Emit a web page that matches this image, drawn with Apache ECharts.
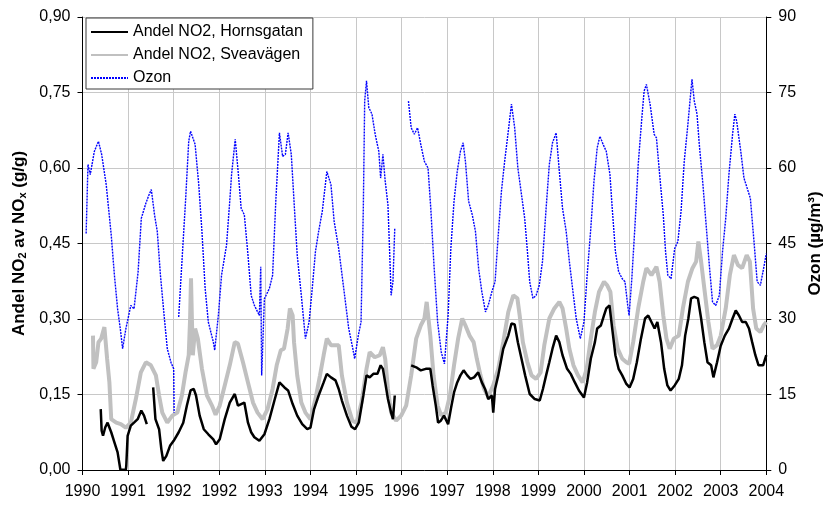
<!DOCTYPE html>
<html>
<head>
<meta charset="utf-8">
<script src="https://cdn.jsdelivr.net/npm/echarts@6/dist/echarts.min.js"></script>
<style>
  html, body { margin: 0; padding: 0; background: #ffffff; }
  #chart { width: 832px; height: 505px; }
</style>
</head>
<body>
<div id="chart"></div>
<script>
// Tick labels along the time axis (one per axis step)
const xLabels = ['1990', '1991', '1992', '1992', '1993', '1994', '1995', '1996',
                 '1997', '1998', '1999', '2000', '2001', '2002', '2003', '2004'];

// Share of NO2 in NOx, Hornsgatan (time in axis steps, value in g/g; null = gap)
const hornsT = [0.40, 0.42, 0.45, 0.50, 0.55, 0.63, 0.70, 0.77, 0.83, 0.84, 0.95, 0.96, 0.99,
  1.06, 1.13, 1.21, 1.29, 1.35, 1.41, 1.48,
  1.55, 1.60, 1.68, 1.73, 1.77, 1.84, 1.92, 2.00, 2.11, 2.21, 2.29, 2.37, 2.44, 2.49, 2.57, 2.66, 2.76, 2.87, 2.93,
  3.01, 3.12, 3.23, 3.34, 3.41, 3.48, 3.55, 3.63, 3.70, 3.77, 3.88, 3.99,
  4.10, 4.21, 4.32, 4.43, 4.51, 4.61, 4.71, 4.82, 4.93, 5.00,
  5.08, 5.18, 5.29, 5.36, 5.45, 5.55, 5.62, 5.69, 5.80, 5.90, 5.98,
  6.06, 6.16, 6.23, 6.30, 6.38, 6.47, 6.54, 6.59, 6.64, 6.70, 6.77, 6.81, 6.85, 7.00,
  7.21, 7.32, 7.42, 7.53, 7.63, 7.68, 7.75, 7.80, 7.86, 7.93, 8.02,
  8.08, 8.15, 8.22, 8.29, 8.36, 8.44, 8.51, 8.59, 8.68, 8.76, 8.83, 8.90, 8.98,
  9.01, 9.05, 9.12, 9.23, 9.34, 9.41, 9.48, 9.55, 9.63, 9.71, 9.81, 9.92,
  10.03, 10.10, 10.17, 10.24, 10.31, 10.39, 10.46, 10.53, 10.63, 10.71, 10.80, 10.89, 11.00,
  11.07, 11.15, 11.24, 11.29, 11.37, 11.44, 11.49, 11.56, 11.62, 11.69, 11.76, 11.84, 11.93,
  12.00, 12.08, 12.16, 12.25, 12.34, 12.41, 12.48, 12.55, 12.61, 12.69, 12.76, 12.83, 12.90, 12.99,
  13.08, 13.15, 13.22, 13.29, 13.35, 13.42, 13.50, 13.57, 13.64, 13.71, 13.79, 13.84, 13.92,
  14.00, 14.09, 14.18, 14.26, 14.33, 14.40, 14.47, 14.55, 14.62, 14.69, 14.76, 14.83, 14.93, 15.00];
const hornsV = [0.121, 0.078, 0.068, 0.085, 0.094, 0.075, 0.055, 0.035, 0.001, 0.0, 0.0, 0.008, 0.068,
  0.088, 0.094, 0.101, 0.118, 0.108, 0.091, null,
  0.164, 0.101, 0.081, 0.041, 0.018, 0.028, 0.048, 0.058, 0.075, 0.094, 0.128, 0.158, 0.161, 0.148, 0.108, 0.081, 0.071, 0.061, 0.051,
  0.061, 0.101, 0.134, 0.151, 0.128, 0.131, 0.134, 0.094, 0.075, 0.065, 0.058, 0.071,
  0.101, 0.138, 0.174, 0.164, 0.158, 0.131, 0.108, 0.091, 0.081, 0.084,
  0.121, 0.148, 0.174, 0.191, 0.184, 0.178, 0.161, 0.138, 0.108, 0.086, 0.081,
  0.094, 0.148, 0.188, 0.184, 0.191, 0.191, 0.208, 0.201, 0.174, 0.141, 0.114, 0.101, 0.148, null,
  0.208, 0.204, 0.198, 0.201, 0.201, 0.168, 0.128, 0.094, 0.098, 0.108, 0.091,
  0.121, 0.154, 0.174, 0.188, 0.198, 0.188, 0.181, 0.184, 0.194, 0.174, 0.161, 0.141, 0.148,
  0.114, 0.161, 0.188, 0.241, 0.267, 0.291, 0.289, 0.254, 0.221, 0.188, 0.151, 0.141,
  0.138, 0.161, 0.188, 0.214, 0.241, 0.267, 0.254, 0.228, 0.201, 0.191, 0.174, 0.158, 0.144,
  0.174, 0.221, 0.254, 0.281, 0.287, 0.307, 0.321, 0.327, 0.281, 0.228, 0.201, 0.188, 0.171,
  0.164, 0.181, 0.214, 0.261, 0.301, 0.307, 0.294, 0.281, 0.294, 0.254, 0.201, 0.168, 0.158, 0.168,
  0.181, 0.208, 0.267, 0.301, 0.341, 0.344, 0.341, 0.301, 0.254, 0.214, 0.208, 0.184, 0.214,
  0.247, 0.267, 0.281, 0.301, 0.317, 0.307, 0.294, 0.294, 0.281, 0.254, 0.228, 0.208, 0.208, 0.228];

// Share of NO2 in NOx, Sveavägen
const sveaT = [0.23, 0.24, 0.30, 0.35, 0.41, 0.48, 0.54, 0.59, 0.63, 0.74, 0.84, 0.95,
  1.06, 1.17, 1.28, 1.39, 1.50, 1.61, 1.68, 1.75, 1.86, 1.97,
  2.08, 2.18, 2.26, 2.33, 2.36, 2.38, 2.40, 2.42, 2.47, 2.53, 2.62, 2.73, 2.84, 2.92,
  3.01, 3.12, 3.23, 3.34, 3.41, 3.52, 3.63, 3.74, 3.84, 3.95,
  4.06, 4.17, 4.26, 4.35, 4.42, 4.50, 4.55, 4.61, 4.64, 4.71, 4.80, 4.89, 5.00,
  5.11, 5.21, 5.29, 5.36, 5.45, 5.55, 5.62, 5.69, 5.80, 5.92,
  6.01, 6.12, 6.23, 6.30, 6.41, 6.52, 6.59, 6.64, 6.70, 6.77, 6.88, 6.99,
  7.10, 7.21, 7.32, 7.42, 7.50, 7.55, 7.59, 7.63, 7.70, 7.79, 7.87, 7.97,
  8.06, 8.15, 8.24, 8.33, 8.40, 8.49, 8.58, 8.65, 8.73, 8.81, 8.90,
  9.01, 9.12, 9.23, 9.34, 9.45, 9.54, 9.59, 9.66, 9.76, 9.85, 9.95,
  10.05, 10.13, 10.24, 10.35, 10.46, 10.53, 10.61, 10.68, 10.77, 10.87, 10.97,
  11.06, 11.15, 11.24, 11.33, 11.44, 11.51, 11.58, 11.65, 11.74, 11.84, 11.93,
  11.99, 12.08, 12.19, 12.30, 12.37, 12.48, 12.59, 12.66, 12.74, 12.81, 12.88, 12.97,
  13.08, 13.17, 13.28, 13.38, 13.46, 13.51, 13.57, 13.64, 13.73, 13.82, 13.92,
  14.00, 14.11, 14.20, 14.29, 14.38, 14.47, 14.57, 14.64, 14.71, 14.78, 14.87, 14.94, 15.00];
const sveaV = [0.267, 0.201, 0.214, 0.254, 0.261, 0.284, 0.221, 0.174, 0.101, 0.094, 0.091, 0.084,
  0.094, 0.141, 0.194, 0.214, 0.208, 0.188, 0.148, 0.114, 0.094, 0.108,
  0.114, 0.148, 0.194, 0.228, 0.300, 0.381, 0.300, 0.228, 0.281, 0.261, 0.201, 0.148, 0.128, 0.110,
  0.128, 0.168, 0.208, 0.254, 0.251, 0.214, 0.174, 0.134, 0.114, 0.101,
  0.121, 0.161, 0.208, 0.238, 0.241, 0.281, 0.321, 0.307, 0.254, 0.188, 0.134, 0.114, 0.101,
  0.141, 0.188, 0.228, 0.261, 0.248, 0.248, 0.248, 0.188, 0.134, 0.098,
  0.094, 0.134, 0.201, 0.234, 0.224, 0.228, 0.244, 0.221, 0.161, 0.114, 0.098, 0.108,
  0.128, 0.188, 0.261, 0.287, 0.301, 0.334, 0.334, 0.267, 0.188, 0.128, 0.108, 0.114,
  0.148, 0.208, 0.261, 0.301, 0.287, 0.267, 0.254, 0.221, 0.188, 0.161, 0.146,
  0.168, 0.201, 0.254, 0.314, 0.347, 0.341, 0.307, 0.254, 0.214, 0.188, 0.181,
  0.194, 0.248, 0.301, 0.321, 0.334, 0.321, 0.281, 0.241, 0.208, 0.188, 0.174,
  0.201, 0.261, 0.314, 0.354, 0.374, 0.367, 0.354, 0.287, 0.241, 0.221, 0.214,
  0.211, 0.254, 0.321, 0.374, 0.401, 0.387, 0.404, 0.374, 0.307, 0.261, 0.241, 0.261,
  0.267, 0.321, 0.374, 0.401, 0.414, 0.454, 0.414, 0.361, 0.294, 0.241, 0.248,
  0.267, 0.321, 0.387, 0.427, 0.407, 0.401, 0.427, 0.414, 0.321, 0.281, 0.274, 0.287, 0.294];

// Ozone concentration (µg/m3)
const ozonT = [0.08, 0.12, 0.17, 0.26, 0.35, 0.42, 0.52, 0.63, 0.70, 0.77, 0.83, 0.88, 0.95,
  1.06, 1.13, 1.22, 1.29, 1.39, 1.46, 1.51, 1.58, 1.64, 1.71, 1.79, 1.86, 1.94, 2.00, 2.01, 2.06,
  2.11, 2.19, 2.26, 2.33, 2.37, 2.47, 2.55, 2.62, 2.69, 2.76, 2.87, 2.90, 2.98,
  3.05, 3.16, 3.23, 3.27, 3.35, 3.42, 3.48, 3.55, 3.63, 3.70, 3.77, 3.88, 3.91, 3.93, 3.99,
  4.10, 4.17, 4.24, 4.32, 4.39, 4.45, 4.51, 4.58, 4.64, 4.71, 4.80, 4.89, 4.97,
  5.04, 5.11, 5.18, 5.26, 5.36, 5.45, 5.52, 5.62, 5.73, 5.84, 5.93, 5.97,
  6.05, 6.11, 6.16, 6.19, 6.23, 6.28, 6.35, 6.42, 6.50, 6.54, 6.59, 6.64, 6.70, 6.74, 6.77, 6.81, 6.85, 7.00,
  7.15, 7.21, 7.28, 7.35, 7.42, 7.50, 7.58, 7.64, 7.71, 7.79, 7.87, 7.94,
  8.02, 8.08, 8.15, 8.22, 8.29, 8.35, 8.40, 8.47, 8.55, 8.62, 8.69, 8.76, 8.84, 8.90, 8.98,
  9.05, 9.12, 9.19, 9.26, 9.34, 9.41, 9.48, 9.55, 9.63, 9.70, 9.76, 9.81, 9.88, 9.95,
  10.02, 10.09, 10.17, 10.24, 10.31, 10.39, 10.46, 10.53, 10.61, 10.68, 10.75, 10.83, 10.92,
  11.00, 11.07, 11.15, 11.22, 11.29, 11.35, 11.42, 11.49, 11.57, 11.62, 11.69, 11.76, 11.84, 11.90, 11.96, 11.99,
  12.05, 12.12, 12.19, 12.27, 12.32, 12.37, 12.45, 12.54, 12.59, 12.66, 12.74, 12.79, 12.84, 12.91, 12.99,
  13.06, 13.13, 13.20, 13.28, 13.34, 13.37, 13.42, 13.48, 13.53, 13.61, 13.68, 13.75, 13.82, 13.89, 13.97,
  14.04, 14.11, 14.18, 14.26, 14.31, 14.35, 14.44, 14.51, 14.58, 14.65, 14.73, 14.80, 14.87, 14.94, 15.00];
const ozonV = [47.0, 60.7, 58.7, 63.3, 65.3, 62.7, 56.7, 46.7, 38.7, 32.0, 28.0, 24.1, 28.0,
  32.7, 32.0, 39.4, 50.0, 53.0, 54.7, 55.7, 50.7, 47.4, 38.7, 30.7, 24.1, 21.4, 20.1, 11.4, null,
  30.4, 42.7, 53.4, 65.3, 67.3, 64.7, 56.7, 47.4, 36.1, 29.4, 25.4, 23.8, 30.7,
  38.7, 44.7, 53.4, 58.7, 65.7, 58.7, 52.0, 50.7, 42.7, 34.7, 32.7, 30.7, 40.4, 18.8, 34.0,
  36.1, 38.7, 53.4, 67.0, 62.3, 62.7, 67.0, 62.7, 53.4, 42.7, 34.7, 26.1, 29.4,
  36.1, 43.4, 47.4, 51.4, 59.3, 56.7, 49.4, 44.0, 36.1, 28.1, 24.1, 22.1,
  26.7, 29.4, 52.0, 73.3, 77.3, 72.0, 70.7, 66.7, 63.3, 58.0, 62.7, 57.4, 52.7, 42.7, 34.7, 37.4, 48.0, null,
  73.3, 68.0, 66.7, 68.0, 64.7, 61.3, 60.0, 52.0, 40.7, 29.4, 23.4, 21.1,
  30.7, 44.0, 53.4, 59.3, 63.3, 65.0, 61.3, 53.4, 50.7, 47.4, 40.0, 35.4, 31.4, 32.7, 35.4,
  37.4, 46.7, 55.4, 61.3, 67.3, 72.7, 68.0, 60.0, 54.7, 50.0, 43.4, 37.4, 34.1, 34.7,
  36.7, 41.4, 52.0, 60.7, 65.0, 67.0, 59.3, 52.0, 47.4, 41.4, 36.1, 30.1, 26.1,
  29.4, 38.7, 48.0, 57.4, 64.0, 66.3, 64.7, 63.3, 58.7, 52.0, 43.4, 39.4, 38.0, 37.4, 32.7, 30.7,
  38.0, 48.7, 60.7, 70.0, 75.3, 76.6, 72.7, 66.7, 66.0, 58.7, 50.7, 43.4, 38.7, 38.0, 44.0,
  45.4, 51.4, 61.3, 68.7, 74.7, 77.6, 73.3, 70.7, 64.7, 56.7, 48.7, 40.7, 33.4, 32.7, 34.7,
  43.4, 50.0, 58.7, 66.7, 70.7, 69.3, 63.3, 58.0, 56.0, 54.0, 45.4, 37.4, 36.7, 40.0, 43.0];

const pairs = (ts, vs) => ts.map((t, i) => [t, vs[i] === null ? '-' : vs[i]]);

const FONT = '"Liberation Sans", Arial, sans-serif';
const GRID_COLOR = '#c8c8c8';

const chart = echarts.init(document.getElementById('chart'), null, { renderer: 'canvas' });

chart.setOption({
  animation: false,
  backgroundColor: '#ffffff',
  textStyle: { fontFamily: FONT, color: '#000' },
  grid: { left: 82.5, right: 59.5, top: 17, bottom: 35, containLabel: false },
  legend: {
    data: ['Andel NO2, Hornsgatan', 'Andel NO2, Sveavägen', 'Ozon'],
    orient: 'vertical',
    left: 86,
    top: 18,
    backgroundColor: '#ffffff',
    borderColor: '#3a3a3a',
    borderWidth: 1,
    borderRadius: 0,
    padding: [6, 10, 3, 4],
    itemWidth: 37,
    itemHeight: 14,
    itemGap: 7,
    // line samples only, no point markers
    itemStyle: { opacity: 0 },
    textStyle: { fontFamily: FONT, fontSize: 16, color: '#000', lineHeight: 16 }
  },
  xAxis: {
    type: 'value',
    min: 0,
    max: 15,
    interval: 1,
    axisLine: { show: true, onZero: false, lineStyle: { color: '#000', width: 1 } },
    axisTick: { show: true, inside: false, length: 5, lineStyle: { color: '#000' } },
    axisLabel: {
      margin: 14,
      fontFamily: FONT,
      fontSize: 16,
      color: '#000',
      formatter: v => xLabels[Math.round(v)]
    },
    splitLine: { show: true, lineStyle: { color: GRID_COLOR, width: 1 } }
  },
  yAxis: [
    {
      type: 'value',
      position: 'left',
      min: 0,
      max: 0.9,
      interval: 0.15,
      name: '{t|Andel NO}{s|2}{t| av NO}{s|x}{t| (g/g)}',
      nameLocation: 'middle',
      nameGap: 53,
      nameRotate: 90,
      nameTextStyle: {
        rich: {
          t: { fontFamily: FONT, fontSize: 17, fontWeight: 'bold', color: '#000' },
          s: { fontFamily: FONT, fontSize: 11, fontWeight: 'bold', color: '#000', padding: [8, 0, 0, 0] }
        }
      },
      axisLine: { show: true, lineStyle: { color: '#000', width: 1 } },
      axisTick: { show: true, inside: false, length: 5, lineStyle: { color: '#000' } },
      axisLabel: {
        margin: 12,
        fontFamily: FONT,
        fontSize: 16,
        color: '#000',
        formatter: v => v.toFixed(2).replace('.', ',')
      },
      splitLine: { show: true, lineStyle: { color: GRID_COLOR, width: 1 } }
    },
    {
      type: 'value',
      position: 'right',
      min: 0,
      max: 90,
      interval: 15,
      name: 'Ozon (µg/m³)',
      nameLocation: 'middle',
      nameGap: 36,
      nameRotate: 90,
      nameTextStyle: { fontFamily: FONT, fontSize: 17, fontWeight: 'bold', color: '#000' },
      axisLine: { show: true, lineStyle: { color: '#000', width: 1 } },
      axisTick: { show: true, inside: false, length: 5, lineStyle: { color: '#000' } },
      axisLabel: { margin: 12, fontFamily: FONT, fontSize: 16, color: '#000' },
      splitLine: { show: false }
    }
  ],
  series: [
    {
      name: 'Andel NO2, Sveavägen',
      type: 'line',
      yAxisIndex: 0,
      data: pairs(sveaT, sveaV),
      showSymbol: false,
      symbol: 'none',
      connectNulls: false,
      lineStyle: { color: '#c0c0c0', width: 4 },
      itemStyle: { color: '#c0c0c0' },
      z: 2
    },
    {
      name: 'Andel NO2, Hornsgatan',
      type: 'line',
      yAxisIndex: 0,
      data: pairs(hornsT, hornsV),
      showSymbol: false,
      symbol: 'none',
      connectNulls: false,
      lineStyle: { color: '#000000', width: 2.5 },
      itemStyle: { color: '#000000' },
      z: 3
    },
    {
      name: 'Ozon',
      type: 'line',
      yAxisIndex: 1,
      data: pairs(ozonT, ozonV),
      showSymbol: false,
      symbol: 'none',
      connectNulls: false,
      lineStyle: { color: '#0000ff', width: 1.4, type: [2, 1] },
      itemStyle: { color: '#0000ff' },
      z: 4
    }
  ]
});
</script>
</body>
</html>
